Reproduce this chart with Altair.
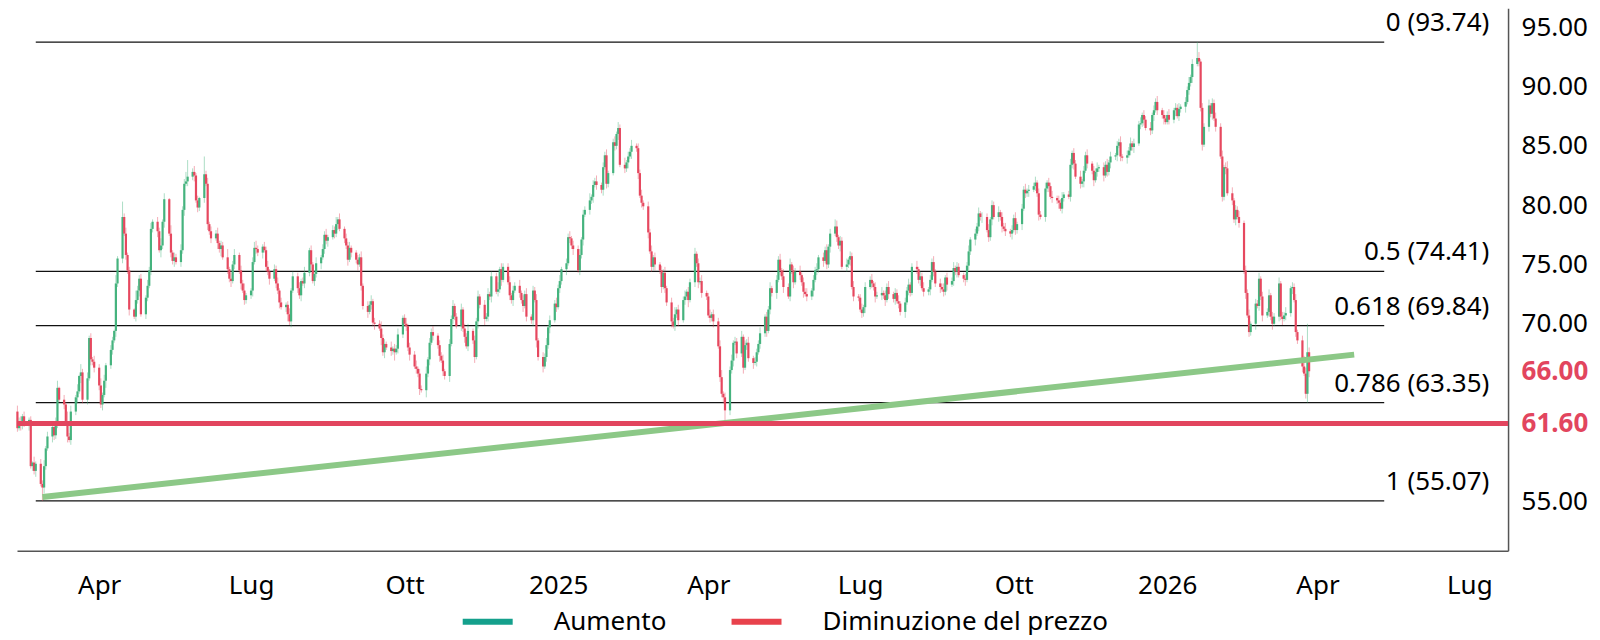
import pandas as pd
import altair as alt

# ---------------- daily closes, one list per month (business days) ----------------
c_2024_02 = [61.2, 61.8, 61.5, 62.2, 61.6, 61.9, 58.0, 58.3, 57.6, 58.2, 56.5, 56.2, 58.0, 59.5]
c_2024_03 = [60.5, 61.3, 60.6, 61.8, 64.6, 63.6, 63.2, 61.8, 60.5, 60.2, 62.6, 63.8, 64.3, 65.6, 65.9,
             63.6, 65.4, 68.8, 67.0, 66.8, 66.3]
c_2024_04 = [64.8, 63.2, 64.0, 65.2, 66.5, 67.8, 68.6, 69.4, 73.4, 75.5, 79.0, 77.6, 75.8, 74.5, 71.2,
             70.6, 72.0, 72.8, 73.8, 70.8, 72.2, 73.2]
c_2024_05 = [74.5, 78.0, 78.6, 77.8, 76.2, 76.6, 78.6, 80.5, 77.6, 76.0, 75.3, 75.6, 75.2, 76.2, 79.6,
             81.8, 82.0, 82.4, 82.8, 82.5, 80.4, 79.8, 80.6]
c_2024_06 = [82.6, 81.8, 78.4, 77.8, 77.2, 77.6, 76.8, 76.3, 76.6, 75.6, 74.6, 73.8, 73.6, 75.0, 75.8,
             74.5, 73.4, 72.8, 72.0, 72.4]
c_2024_07 = [72.8, 75.2, 76.4, 76.3, 76.0, 76.5, 76.2, 74.8, 74.4, 73.8, 74.6, 73.4, 72.8, 71.8, 71.4,
             71.6, 70.8, 70.2, 72.8, 74.0, 73.0, 72.4, 73.6]
c_2024_08 = [73.4, 74.3, 76.2, 75.0, 73.6, 74.2, 75.1, 75.6, 76.3, 77.5, 77.0, 77.3, 77.9, 77.6, 78.4,
             78.8, 78.0, 77.2, 76.6, 75.4, 76.4, 76.0]
c_2024_09 = [75.4, 75.0, 75.6, 73.2, 71.5, 71.0, 71.6, 71.9, 70.1, 70.0, 69.6, 68.8, 67.6, 68.3, 68.0,
             67.7, 67.9, 67.6, 67.9, 69.1, 70.5]
c_2024_10 = [70.0, 69.8, 68.0, 67.4, 66.4, 66.2, 65.8, 64.5, 64.4, 65.8, 67.0, 68.4, 69.3, 69.0, 68.2,
             67.3, 66.9, 66.0, 65.6, 68.3, 70.4, 71.5, 70.6]
c_2024_11 = [69.8, 71.2, 69.6, 68.9, 68.1, 69.4, 68.6, 67.2, 70.2, 72.3, 71.6, 70.4, 70.6, 72.5, 72.3,
             74.0, 72.7, 72.9, 74.6, 73.7, 74.8]
c_2024_12 = [73.5, 72.4, 72.0, 72.8, 73.2, 72.6, 72.0, 71.5, 72.5, 70.6, 70.3, 72.8, 72.0, 68.6, 67.2,
             66.4, 67.2, 68.2, 69.7, 70.3, 71.7, 71.4]
c_2025_01 = [73.0, 73.6, 74.6, 75.1, 77.3, 77.2, 76.6, 76.3, 74.5, 75.8, 77.1, 79.2, 79.6, 80.4, 80.7,
             81.7, 82.0, 81.7, 81.3, 83.2, 84.2, 81.8, 82.7]
c_2025_02 = [85.3, 85.0, 86.0, 86.5, 83.4, 83.1, 83.6, 84.1, 84.5, 85.0, 84.8, 82.7, 80.8, 80.2, 79.9,
             77.7, 76.1, 74.8, 75.6, 75.0]
c_2025_03 = [74.5, 73.1, 74.3, 73.0, 71.8, 70.2, 69.8, 70.8, 71.2, 70.3, 72.0, 72.3, 72.7, 72.0, 73.5,
             75.9, 75.1, 73.5, 73.6, 72.6, 72.3]
c_2025_04 = [70.7, 70.5, 70.8, 70.2, 68.1, 65.5, 64.1, 63.8, 62.7, 66.1, 66.9, 68.4, 68.5, 67.5, 68.9,
             66.3, 68.2, 68.4, 67.1, 66.7, 66.8, 67.6]
c_2025_05 = [68.3, 69.2, 70.6, 69.4, 71.2, 73.0, 72.6, 73.7, 75.4, 74.5, 74.0, 73.1, 72.3, 75.0, 74.5,
             73.5, 74.4, 74.1, 73.5, 72.7, 72.5, 72.3]
c_2025_06 = [72.8, 73.7, 74.5, 74.6, 75.6, 75.3, 76.2, 75.0, 76.5, 77.6, 78.2, 77.3, 76.6, 77.0, 74.8,
             75.0, 75.4, 75.7, 73.1, 72.3, 72.2]
c_2025_07 = [71.2, 70.9, 71.4, 73.1, 73.7, 73.4, 73.1, 72.3, 72.4, 72.6, 72.4, 72.0, 73.1, 72.5, 72.1,
             72.6, 71.9, 71.7, 71.0, 71.8, 72.8, 73.3, 72.6]
c_2025_08 = [74.8, 74.6, 73.7, 74.0, 73.0, 72.7, 72.9, 73.7, 75.2, 74.4, 73.4, 73.1, 72.9, 72.7, 73.9,
             73.3, 73.6, 74.7, 74.4, 74.8, 74.1]
c_2025_09 = [73.8, 73.7, 74.9, 76.1, 77.1, 77.6, 78.2, 79.3, 79.0, 79.0, 77.9, 77.3, 78.8, 80.0, 79.0,
             79.4, 79.0, 78.2, 78.0, 77.8, 77.6, 77.9]
c_2025_10 = [78.9, 77.9, 78.4, 79.7, 81.3, 81.0, 81.2, 81.3, 81.6, 81.9, 81.0, 79.2, 79.0, 81.4, 81.9,
             81.6, 80.7, 80.6, 80.4, 80.2, 79.7, 80.6, 80.9]
c_2025_11 = [80.7, 83.4, 84.4, 83.5, 82.4, 81.8, 82.0, 82.9, 84.2, 83.5, 82.9, 82.1, 82.8, 83.1, 83.2,
             82.5, 83.4, 82.8, 83.6, 84.1]
c_2025_12 = [84.2, 85.0, 85.3, 84.1, 84.0, 84.2, 84.6, 85.2, 84.9, 85.2, 86.8, 86.9, 87.6, 87.2, 86.5,
             86.3, 87.6, 88.0, 88.7, 88.0, 87.6, 87.3, 87.0]
c_2026_01 = [87.6, 87.2, 88.0, 88.2, 87.5, 88.1, 88.3, 88.7, 89.7, 90.3, 90.8, 91.9, 92.4, 92.1, 88.2,
             85.1, 86.6, 88.4, 87.7, 88.6, 87.3, 86.6]
c_2026_02 = [84.1, 80.7, 83.2, 83.1, 81.0, 80.4, 78.8, 79.6, 79.0, 78.5, 74.5, 72.6, 70.7, 69.3, 70.0,
             71.7, 71.5, 73.8, 72.3, 70.7]
c_2026_03 = [71.0, 72.4, 70.6, 70.0, 70.6, 73.4, 70.6, 70.4, 70.7, 70.9, 73.0, 73.1, 72.0, 69.3, 68.6,
             66.4, 65.8, 64.1, 67.6, 66.0]

FIRST_OPEN = 62.6

# wick lengths in tenths of a point (upper / lower), one digit per day, per month
wick_up = ["53424231524352", "425361428352617352425", "3625243172435231843425",
           "35243625172435348235241", "63524352437253524362", "24563243524352423524352",
           "3524235243524362524352", "243524352436342524352", "35243524362435243524352",
           "352436243524352436253", "3524352435243524362435", "35243524352436243524352",
           "35243624352435243524", "243524362435243524352", "3524356243524352435243",
           "3524352435263524352435", "243524352435243524352", "35243524352435243524352",
           "352435243524352435243", "2435243524352435243524", "35243524352435243524352",
           "35243524352435243524", "24352435243524352435243", "3524352435243524352435",
           "35246524352435243524", "35243524352435249524"]
wick_dn = ["32543624352653", "254362435243526342534", "4352634253424352435243",
           "24352635243524352435243", "42534253624352435243", "35243524352435246352435",
           "2435243524352435243524", "352435243526352437243", "24352435263524352435243",
           "243524352635243524352", "2435243524352635243524", "24352435243524352435243",
           "24352435263524352435", "352435243524362435243", "2435243524352435243524",
           "2435243524352435243524", "352435243524352435243", "24352435243524352435243",
           "243524352435243524352", "3524352435243524352435", "24352435243524352435243",
           "24352435243524352435", "35243524352435243524352", "2435243524352435243524",
           "24352435243524352435", "24352435243524352435"]

# notable extremes
extremes = [("2024-02-27", "low", 55.07), ("2024-04-15", "high", 80.3), ("2024-05-24", "high", 83.8),
            ("2024-06-03", "high", 84.1), ("2025-02-06", "high", 87.0), ("2025-04-11", "low", 61.7),
            ("2025-06-16", "high", 78.8), ("2026-01-19", "high", 93.74),
            ("2026-03-26", "low", 63.35), ("2026-03-26", "high", 70.0)]

# Fibonacci retracement levels
fib_levels = [93.74, 74.41, 69.84, 63.35, 55.07]
fib_labels = ["0 (93.74)", "0.5 (74.41)", "0.618 (69.84)", "0.786 (63.35)", "1 (55.07)"]
fib_start, fib_end, fib_label_at = "2024-02-23", "2026-05-11", "2026-07-13"

# trendline and support
trend_dates = ["2024-02-27", "2026-04-23"]
trend_values = [55.4, 67.4]
support_level = 61.60

y_tick_values = [55, 61.6, 66, 70, 75, 80, 85, 90, 95]
x_tick_dates = [(2024, 4), (2024, 7), (2024, 10), (2025, 1), (2025, 4), (2025, 7), (2025, 10),
                (2026, 1), (2026, 4), (2026, 7)]
legend_names = ["Aumento", "Diminuzione del prezzo"]

# ---------------- build table ----------------
months = [c_2024_02, c_2024_03, c_2024_04, c_2024_05, c_2024_06, c_2024_07, c_2024_08, c_2024_09,
          c_2024_10, c_2024_11, c_2024_12, c_2025_01, c_2025_02, c_2025_03, c_2025_04, c_2025_05,
          c_2025_06, c_2025_07, c_2025_08, c_2025_09, c_2025_10, c_2025_11, c_2025_12, c_2026_01,
          c_2026_02, c_2026_03]
closes = [v for m in months for v in m]
N = len(closes)
dates = pd.bdate_range("2024-02-12", periods=N)
opens = [FIRST_OPEN] + closes[:-1]
up_digits = ("".join(wick_up) + "0" * N)[:N]
dn_digits = ("".join(wick_dn) + "0" * N)[:N]
highs = [max(o, c) + int(u) / 10 for o, c, u in zip(opens, closes, up_digits)]
lows = [min(o, c) - int(d) / 10 for o, c, d in zip(opens, closes, dn_digits)]
date_str = [d.strftime("%Y-%m-%d") for d in dates]
idx = {d: i for i, d in enumerate(date_str)}
for d, kind, v in extremes:
    if d in idx:
        i = idx[d]
        if kind == "low":
            lows[i] = v
        else:
            highs[i] = v

candles = pd.DataFrame({"date": date_str, "open": opens, "high": highs, "low": lows, "close": closes})

fib_df = pd.DataFrame({"level": fib_levels, "label": fib_labels, "start": fib_start,
                       "end": fib_end, "lx": fib_label_at})
trend_df = pd.DataFrame({"t": trend_dates, "v": trend_values})
support_df = pd.DataFrame({"v": [support_level]})
legend_df = pd.DataFrame({"k": legend_names, "v": [None, None]})

# ---------------- styling ----------------
FONT = "Noto Sans"
FS = 26
GREEN = "#45b37e"
RED = "#e6485f"
SUPPORT_RED = "#e2455e"
TREND_GREEN = "#8cc887"
TEAL = "#14a08c"
LEG_RED = "#e8424c"

X_SCALE = alt.Scale(type="utc", domain=[alt.DateTime(year=2024, month=2, date=11, hours=18, utc=True),
                                        alt.DateTime(year=2026, month=7, date=24, hours=5, utc=True)])
Y_SCALE = alt.Scale(domain=[50.86, 96.60], nice=False, zero=False)

month_names = "['Gen','Feb','Mar','Apr','Mag','Giu','Lug','Ago','Set','Ott','Nov','Dic']"
X_AXIS = alt.Axis(
    title=None, values=[alt.DateTime(year=y, month=m, date=1, utc=True) for y, m in x_tick_dates],
    labelExpr=f"utcmonth(datum.value) == 0 ? utcFormat(datum.value, '%Y') : {month_names}[utcmonth(datum.value)]",
    ticks=False, grid=False, domainColor="#555555", domainWidth=1.5, labelFontSize=FS,
    labelFont=FONT, labelColor="#000000", labelPadding=22, labelFlush=False, labelOverlap=False,
)
is_special = "datum.value == 66 || datum.value == 61.6"
Y_AXIS = alt.Axis(
    title=None, orient="right", values=y_tick_values, format=".2f", ticks=False, grid=False,
    domainColor="#555555", domainWidth=1.5, labelFontSize=FS, labelFont=FONT, labelPadding=13,
    labelAlign="left", labelBaseline="middle", labelOverlap=False, labelFlush=False,
    labelColor={"expr": f"{is_special} ? '{SUPPORT_RED}' : '#000000'"},
    labelFontWeight={"expr": f"{is_special} ? 'bold' : 'normal'"},
)

candle_color = alt.condition("datum.close >= datum.open", alt.value(GREEN), alt.value(RED))

fib_lines = alt.Chart(fib_df).mark_rule(color="#111111", strokeWidth=1.3).encode(
    x=alt.X("start:T", scale=X_SCALE, axis=X_AXIS), x2="end:T",
    y=alt.Y("level:Q", scale=Y_SCALE, axis=Y_AXIS))

wicks = alt.Chart(candles).mark_rule(strokeWidth=1, opacity=0.45).encode(
    x=alt.X("date:T", scale=X_SCALE, axis=X_AXIS),
    y=alt.Y("low:Q", scale=Y_SCALE, axis=Y_AXIS), y2="high:Q", color=candle_color)

bodies = alt.Chart(candles).mark_rule(strokeWidth=2.2).encode(
    x=alt.X("date:T", scale=X_SCALE, axis=X_AXIS),
    y=alt.Y("open:Q", scale=Y_SCALE, axis=Y_AXIS), y2="close:Q", color=candle_color)

trend = alt.Chart(trend_df).mark_line(color=TREND_GREEN, strokeWidth=6, strokeCap="butt").encode(
    x=alt.X("t:T", scale=X_SCALE, axis=X_AXIS), y=alt.Y("v:Q", scale=Y_SCALE, axis=Y_AXIS))

support = alt.Chart(support_df).mark_rule(color=SUPPORT_RED, strokeWidth=5).encode(
    y=alt.Y("v:Q", scale=Y_SCALE, axis=Y_AXIS))

fib_text = alt.Chart(fib_df).mark_text(align="right", baseline="alphabetic", dy=-11, fontSize=FS,
                                       font=FONT, color="#000000").encode(
    x=alt.X("lx:T", scale=X_SCALE, axis=X_AXIS), y=alt.Y("level:Q", scale=Y_SCALE, axis=Y_AXIS),
    text="label:N")

legend_layer = alt.Chart(legend_df).mark_rule(strokeWidth=6).encode(
    y=alt.Y("v:Q", scale=Y_SCALE, axis=Y_AXIS),
    color=alt.Color("k:N", scale=alt.Scale(domain=legend_names, range=[TEAL, LEG_RED]),
                    legend=alt.Legend(orient="none", legendX=458, legendY=601, direction="horizontal",
                                      title=None, symbolType="M-2.5,0H2.5", symbolSize=400,
                                      symbolStrokeWidth=6, labelFontSize=FS, labelFont=FONT,
                                      labelColor="#000000", labelOffset=53, columnPadding=53,
                                      labelLimit=0)))

chart = alt.layer(fib_lines, wicks, bodies, trend, support, fib_text, legend_layer).properties(
    width=1492, height=543, padding={"left": 6, "top": 0, "right": 4, "bottom": 0},
    background="#ffffff",
).configure_view(stroke=None)

chart.save("out.html", embed_options={"renderer": "svg", "actions": False})
